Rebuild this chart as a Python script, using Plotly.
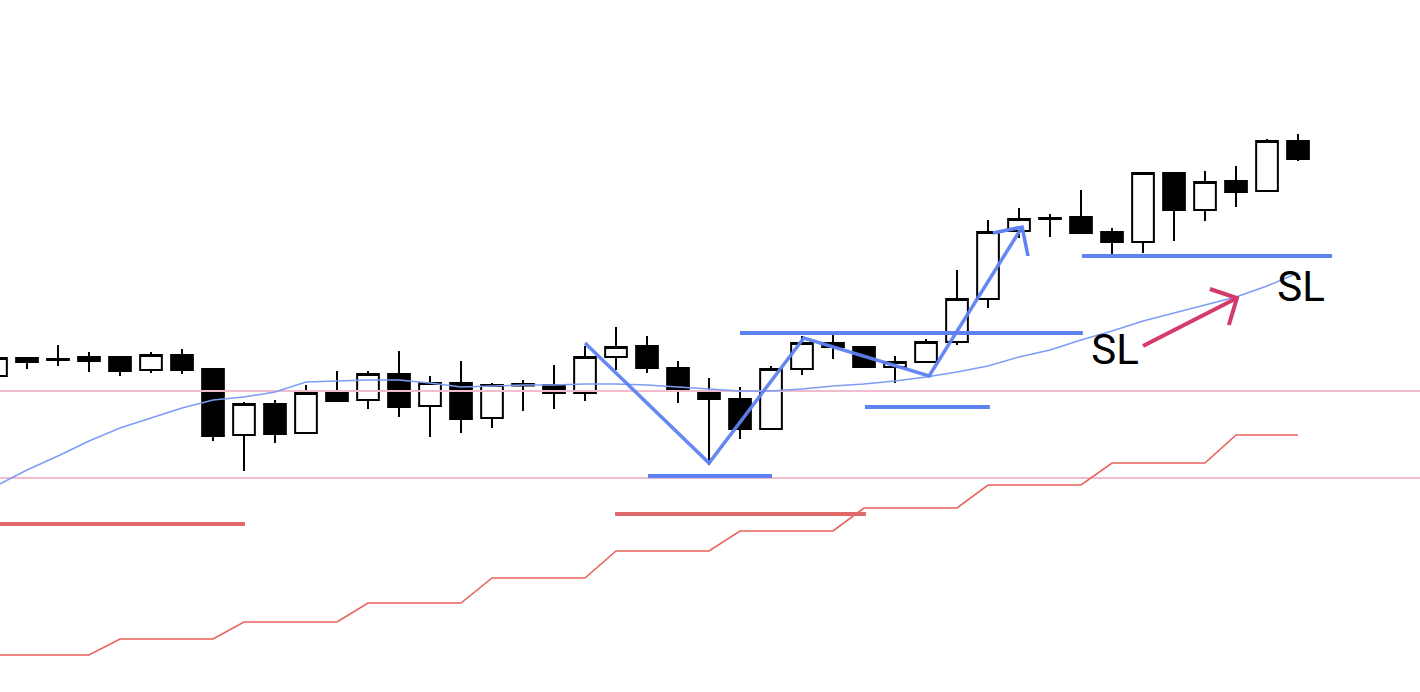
import plotly.graph_objects as go

# candle data (price scale), one bar per period
idx = list(range(43))
opens = [153.24, 153.42, 153.41, 153.43, 153.43, 153.30, 153.45, 153.31, 152.65, 152.96,
         152.67, 153.08, 153.00, 153.26, 152.94, 153.17, 152.82, 153.16, 153.15, 153.07,
         153.43, 153.54, 153.32, 153.07, 153.01, 152.71, 153.31, 153.57, 153.53, 153.33,
         153.38, 153.58, 154.01, 154.69, 154.81, 154.83, 154.68, 154.58, 155.27, 154.90,
         155.19, 155.09, 155.59]
highs = [153.44, 153.42, 153.55, 153.48, 153.43, 153.48, 153.51, 153.31, 152.98, 153.00,
         153.15, 153.29, 153.29, 153.49, 153.24, 153.39, 153.17, 153.20, 153.35, 153.54,
         153.73, 153.64, 153.39, 153.22, 153.13, 153.34, 153.64, 153.65, 153.54, 153.44,
         153.61, 154.30, 154.80, 154.92, 154.86, 155.10, 154.72, 155.28, 155.28, 155.29,
         155.34, 155.61, 155.66]
lows = [153.22, 153.31, 153.34, 153.28, 153.24, 153.27, 153.26, 152.59, 152.29, 152.57,
        152.67, 152.99, 152.91, 152.83, 152.63, 152.67, 152.72, 152.89, 152.91, 152.99,
        153.30, 153.27, 152.97, 152.35, 152.61, 152.71, 153.25, 153.41, 153.33, 153.17,
        153.37, 153.55, 153.92, 154.62, 154.63, 154.67, 154.44, 154.47, 154.59, 154.79,
        154.93, 155.09, 155.39]
closes = [153.42, 153.38, 153.40, 153.39, 153.29, 153.45, 153.30, 152.64, 152.96, 152.66,
          153.07, 152.99, 153.26, 152.93, 153.17, 152.81, 153.15, 153.145, 153.07, 153.43,
          153.53, 153.32, 153.09, 153.01, 152.71, 153.31, 153.57, 153.53, 153.33, 153.38,
          153.58, 154.01, 154.68, 154.81, 154.82, 154.67, 154.58, 155.27, 154.90, 155.18,
          155.08, 155.59, 155.41]

# moving average
ma = [152.14, 152.30, 152.44, 152.59, 152.72, 152.82, 152.92, 153.00, 153.03, 153.08,
      153.18, 153.19, 153.20, 153.20, 153.17, 153.13, 153.14, 153.15, 153.15, 153.16,
      153.16, 153.15, 153.13, 153.11, 153.09, 153.09, 153.11, 153.14, 153.16, 153.19,
      153.23, 153.28, 153.34, 153.43, 153.50, 153.60, 153.69, 153.79, 153.87, 153.95,
      154.03, 154.14, 154.27]

# lower step line (level held 4 bars each)
step_levels = [150.45, 150.61, 150.78, 150.97, 151.22, 151.49, 151.69, 151.92, 152.15, 152.37, 152.65]
step = [step_levels[i // 4] for i in idx]

# horizontal levels
pink_levels = [153.09, 152.22]
red_segments = [((0.13, 8.03), 151.76), ((19.97, 28.06), 151.86)]
blue_segments = [((21.03, 25.03), 152.24), ((24.0, 35.06), 153.67),
                 ((28.03, 32.06), 152.93), ((35.03, 43.1), 154.44)]

# hand-drawn swing path and arrows
swing_x = [19.0, 23.0, 26.06, 30.1, 33.1]
swing_y = [153.57, 152.37, 153.62, 153.24, 154.73]
swing_head_x = [32.16, 33.1, 33.29]
swing_head_y = [154.67, 154.73, 154.44]
sl_arrow_x = [37.0, 40.03]
sl_arrow_y = [153.54, 154.02]
sl_head_x = [39.16, 40.03, 39.77]
sl_head_y = [154.11, 154.02, 153.75]
sl_labels_x = [36.1, 42.1]
sl_labels_y = [153.47, 154.10]

BLUE = "#5f82f2"
fig = go.Figure()

for lv in pink_levels:
    fig.add_trace(go.Scatter(x=[-1, 47], y=[lv, lv], mode="lines",
                             line=dict(color="#f2bcd0", width=2), hoverinfo="skip"))

fig.add_trace(go.Scatter(x=idx, y=step, mode="lines",
                         line=dict(color="#e9625a", width=1.6), hoverinfo="skip"))
fig.add_trace(go.Scatter(x=idx, y=ma, mode="lines",
                         line=dict(color="#7d9cf6", width=1.5), hoverinfo="skip"))

for (x0, x1), lv in red_segments:
    fig.add_trace(go.Scatter(x=[x0, x1], y=[lv, lv], mode="lines",
                             line=dict(color="#e06868", width=4), hoverinfo="skip"))

fig.add_trace(go.Candlestick(
    x=idx, open=opens, high=highs, low=lows, close=closes,
    increasing=dict(line=dict(color="black", width=2), fillcolor="white"),
    decreasing=dict(line=dict(color="black", width=2), fillcolor="black"),
    whiskerwidth=0, hoverinfo="skip"))

for (x0, x1), lv in blue_segments:
    fig.add_trace(go.Scatter(x=[x0, x1], y=[lv, lv], mode="lines",
                             line=dict(color=BLUE, width=4), hoverinfo="skip"))

fig.add_trace(go.Scatter(x=swing_x, y=swing_y, mode="lines",
                         line=dict(color=BLUE, width=3.5), opacity=0.95, hoverinfo="skip"))
fig.add_trace(go.Scatter(x=swing_head_x, y=swing_head_y, mode="lines",
                         line=dict(color=BLUE, width=3.5), hoverinfo="skip"))
fig.add_trace(go.Scatter(x=sl_arrow_x, y=sl_arrow_y, mode="lines",
                         line=dict(color="#d63a68", width=4), hoverinfo="skip"))
fig.add_trace(go.Scatter(x=sl_head_x, y=sl_head_y, mode="lines",
                         line=dict(color="#d63a68", width=4), hoverinfo="skip"))
fig.add_trace(go.Scatter(x=sl_labels_x, y=sl_labels_y, mode="text", text=["SL", "SL"],
                         textfont=dict(family="Roboto", size=42, color="black"),
                         hoverinfo="skip"))

fig.update_layout(
    width=1420, height=692, showlegend=False,
    margin=dict(l=0, r=0, t=0, b=0),
    paper_bgcolor="white", plot_bgcolor="white",
    boxgap=0.3, boxgroupgap=0,
    xaxis=dict(range=[0.129, 45.935], visible=False, rangeslider=dict(visible=False)),
    yaxis=dict(range=[150.08, 157.0], visible=False),
)

fig.write_html("out.html", config={"displayModeBar": False},
               post_script="document.body.style.margin='0';")
